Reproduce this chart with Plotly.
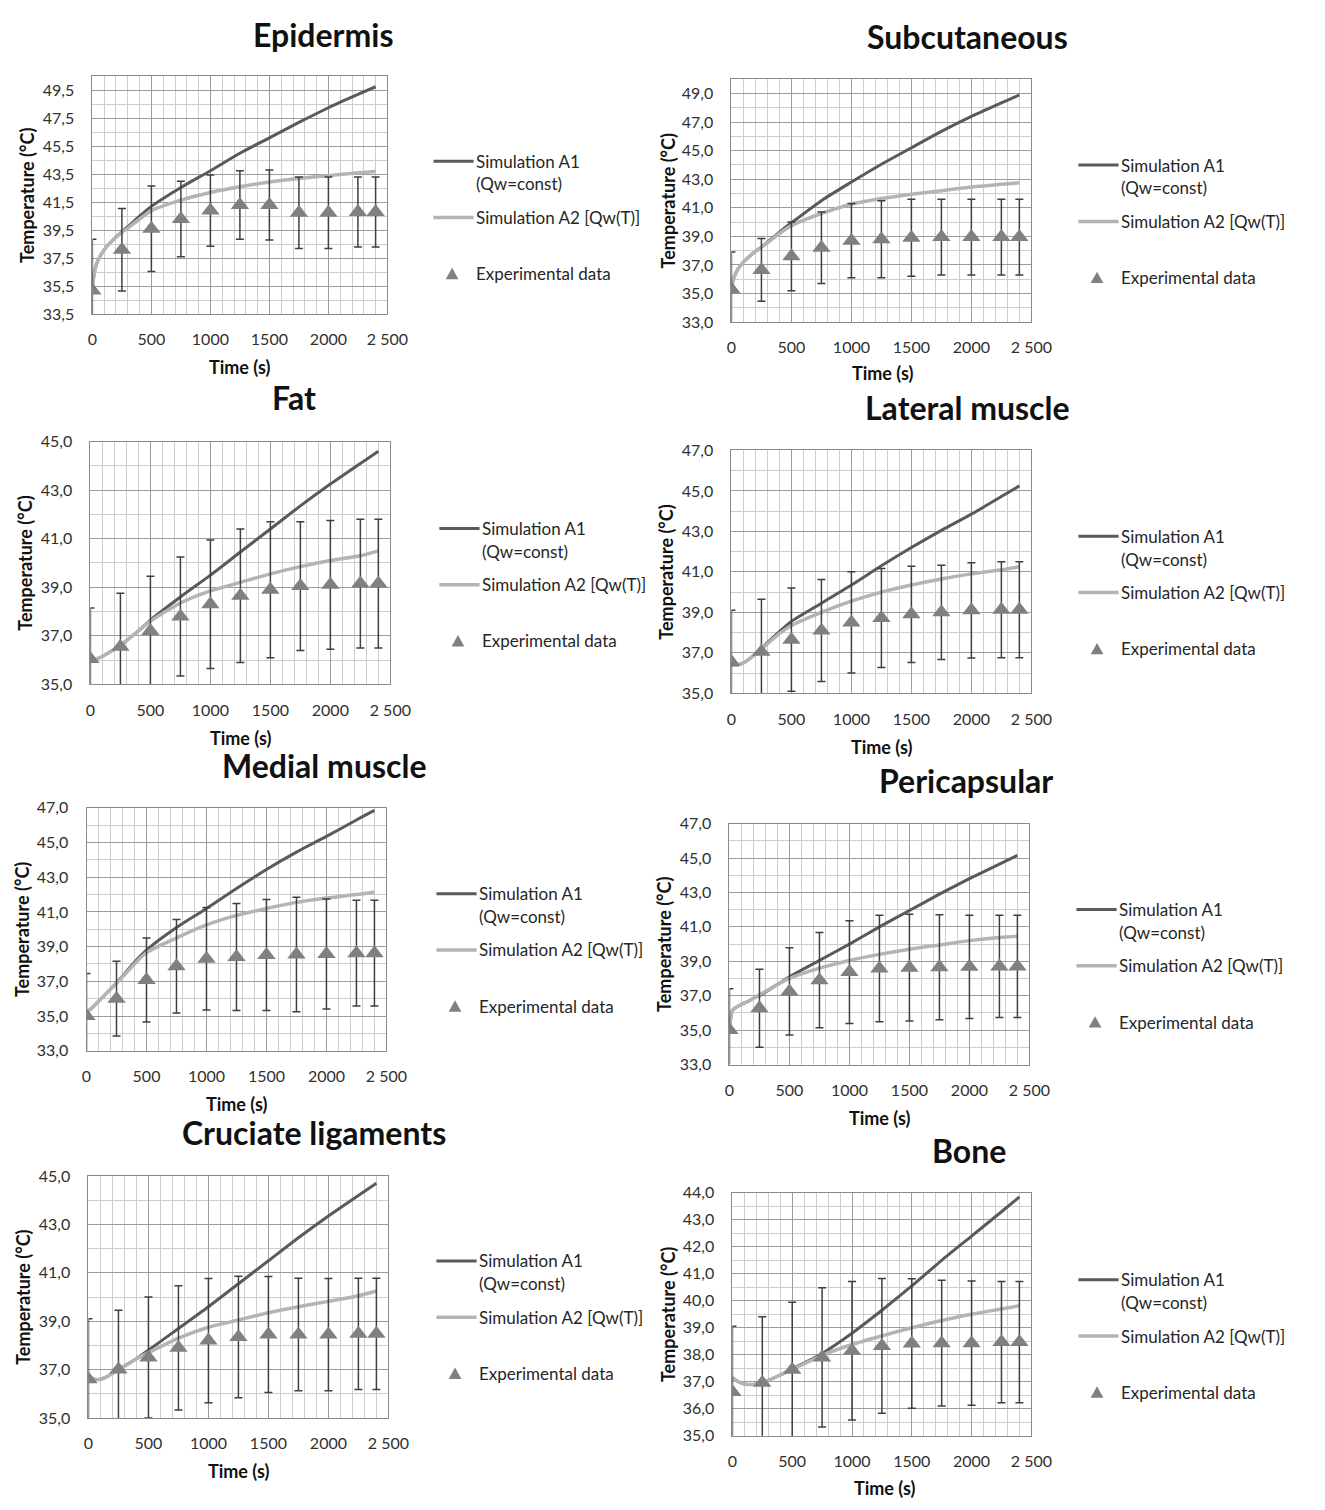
import plotly.graph_objects as go

W, H = 1325, 1510          # target page size
PAD = 8                    # default page body margin
FW, FH = W - 2 * PAD, H - 2 * PAD   # figure size so page fits exactly

# ---------------- data ----------------
exp_time = [0, 250, 500, 750, 1000, 1250, 1500, 1750, 2000, 2250, 2400]
sim_time = [0, 25, 50, 100, 150, 200, 250, 300, 400, 500, 750, 1000, 1250, 1500, 1750, 2000, 2250, 2400]
x_tick_vals = [0, 500, 1000, 1500, 2000, 2500]
x_tick_text = ["0", "500", "1000", "1500", "2000", "2 500"]

titles = ["Epidermis", "Subcutaneous", "Fat", "Lateral muscle",
          "Medial muscle", "Pericapsular", "Cruciate ligaments", "Bone"]

epidermis_a1 = [35.5, 36.8, 37.4, 38.1, 38.6, 39.0, 39.4, 39.75, 40.5, 41.2, 42.55, 43.75, 45.0, 46.1, 47.2, 48.25, 49.2, 49.75]
epidermis_a2 = [35.5, 36.8, 37.4, 38.1, 38.6, 39.0, 39.35, 39.65, 40.3, 40.9, 41.65, 42.2, 42.6, 42.95, 43.2, 43.4, 43.6, 43.7]
epidermis_exp = [35.2, 38.1, 39.6, 40.3, 40.9, 41.3, 41.3, 40.75, 40.75, 40.8, 40.8]
epidermis_err = [3.65, 2.95, 3.05, 2.7, 2.55, 2.45, 2.5, 2.55, 2.55, 2.5, 2.5]

subcutaneous_a1 = [35.5, 36.2, 36.65, 37.2, 37.6, 37.95, 38.25, 38.6, 39.3, 39.95, 41.5, 42.8, 44.05, 45.2, 46.35, 47.4, 48.35, 48.9]
subcutaneous_a2 = [35.5, 36.2, 36.65, 37.2, 37.6, 37.95, 38.25, 38.55, 39.2, 39.75, 40.6, 41.25, 41.65, 41.95, 42.2, 42.45, 42.65, 42.75]
subcutaneous_exp = [35.3, 36.65, 37.6, 38.2, 38.7, 38.8, 38.9, 38.95, 38.95, 38.95, 38.95]
subcutaneous_err = [2.6, 2.2, 2.4, 2.5, 2.6, 2.7, 2.7, 2.65, 2.65, 2.65, 2.65]

fat_a1 = [36.0, 36.02, 36.05, 36.15, 36.3, 36.45, 36.6, 36.8, 37.2, 37.65, 38.6, 39.5, 40.45, 41.4, 42.35, 43.25, 44.1, 44.6]
fat_a2 = [36.0, 36.02, 36.05, 36.15, 36.3, 36.45, 36.6, 36.8, 37.2, 37.6, 38.35, 38.85, 39.2, 39.55, 39.85, 40.1, 40.3, 40.5]
fat_exp = [36.05, 36.55, 37.2, 37.8, 38.3, 38.65, 38.9, 39.05, 39.1, 39.15, 39.15]
fat_err = [2.1, 2.2, 2.25, 2.45, 2.65, 2.75, 2.8, 2.65, 2.65, 2.65, 2.65]

lateral_a1 = [36.4, 36.38, 36.4, 36.5, 36.7, 36.95, 37.2, 37.5, 38.05, 38.55, 39.45, 40.35, 41.3, 42.2, 43.05, 43.85, 44.72, 45.25]
lateral_a2 = [36.4, 36.38, 36.4, 36.5, 36.7, 36.95, 37.2, 37.45, 37.95, 38.35, 39.0, 39.55, 40.0, 40.35, 40.65, 40.9, 41.1, 41.25]
lateral_exp = [36.55, 37.05, 37.65, 38.1, 38.5, 38.72, 38.9, 39.0, 39.1, 39.13, 39.13]
lateral_err = [2.55, 2.6, 2.55, 2.52, 2.5, 2.45, 2.38, 2.33, 2.35, 2.37, 2.37]

medial_a1 = [35.15, 35.35, 35.5, 35.85, 36.2, 36.55, 36.9, 37.3, 38.1, 38.8, 40.1, 41.2, 42.35, 43.45, 44.45, 45.35, 46.3, 46.85]
medial_a2 = [35.15, 35.35, 35.5, 35.85, 36.2, 36.55, 36.9, 37.25, 38.0, 38.65, 39.5, 40.25, 40.8, 41.2, 41.55, 41.8, 42.0, 42.15]
medial_exp = [35.0, 36.0, 37.08, 37.87, 38.3, 38.4, 38.52, 38.54, 38.58, 38.62, 38.62]
medial_err = [2.45, 2.15, 2.42, 2.7, 2.95, 3.08, 3.2, 3.3, 3.17, 3.05, 3.05]

pericapsular_a1 = [35.1, 36.15, 36.3, 36.5, 36.65, 36.85, 37.0, 37.2, 37.65, 38.1, 39.05, 40.0, 41.0, 41.95, 42.9, 43.8, 44.65, 45.15]
pericapsular_a2 = [35.1, 36.15, 36.3, 36.5, 36.65, 36.85, 37.05, 37.25, 37.65, 38.0, 38.6, 39.05, 39.4, 39.7, 39.95, 40.2, 40.38, 40.45]
pericapsular_exp = [35.0, 36.27, 37.25, 37.9, 38.37, 38.58, 38.63, 38.65, 38.68, 38.7, 38.7]
pericapsular_err = [2.4, 2.27, 2.53, 2.77, 2.98, 3.1, 3.1, 3.05, 3.0, 2.97, 2.97]

cruciate_a1 = [36.75, 36.65, 36.6, 36.6, 36.7, 36.85, 37.0, 37.15, 37.45, 37.8, 38.7, 39.6, 40.55, 41.5, 42.45, 43.35, 44.2, 44.7]
cruciate_a2 = [36.75, 36.65, 36.6, 36.6, 36.7, 36.85, 37.0, 37.15, 37.45, 37.7, 38.3, 38.75, 39.05, 39.35, 39.6, 39.82, 40.05, 40.25]
cruciate_exp = [36.6, 37.0, 37.5, 37.9, 38.2, 38.35, 38.45, 38.45, 38.45, 38.48, 38.48]
cruciate_err = [2.5, 2.45, 2.5, 2.57, 2.57, 2.51, 2.4, 2.33, 2.32, 2.3, 2.3]

bone_a1 = [37.15, 37.07, 37.0, 36.92, 36.9, 36.92, 36.97, 37.05, 37.25, 37.48, 38.05, 38.8, 39.65, 40.55, 41.5, 42.4, 43.3, 43.85]
bone_a2 = [37.15, 37.07, 37.0, 36.92, 36.9, 36.92, 36.97, 37.05, 37.25, 37.45, 37.98, 38.38, 38.7, 39.0, 39.27, 39.5, 39.7, 39.82]
bone_exp = [36.62, 36.96, 37.45, 37.9, 38.15, 38.33, 38.42, 38.43, 38.43, 38.47, 38.47]
bone_err = [2.44, 2.45, 2.5, 2.58, 2.57, 2.5, 2.4, 2.33, 2.3, 2.25, 2.25]

series = [
    (epidermis_a1, epidermis_a2, epidermis_exp, epidermis_err),
    (subcutaneous_a1, subcutaneous_a2, subcutaneous_exp, subcutaneous_err),
    (fat_a1, fat_a2, fat_exp, fat_err),
    (lateral_a1, lateral_a2, lateral_exp, lateral_err),
    (medial_a1, medial_a2, medial_exp, medial_err),
    (pericapsular_a1, pericapsular_a2, pericapsular_exp, pericapsular_err),
    (cruciate_a1, cruciate_a2, cruciate_exp, cruciate_err),
    (bone_a1, bone_a2, bone_exp, bone_err),
]

# y axis settings: (min, max, major step)
y_axes = [(33.5, 50.5, 2), (33, 50, 2), (35, 45, 2), (35, 47, 2),
          (33, 47, 2), (33, 47, 2), (35, 45, 2), (35, 44, 1)]

# ---------------- layout (page pixels) ----------------
boxes = [(89, 390, 67, 308), (741, 1047, 70, 316),
         (87, 393, 437, 683), (741, 1047, 446, 692),
         (83, 389, 808, 1054), (739, 1045, 824, 1068),
         (85, 391, 1181, 1426), (742, 1047, 1198, 1444)]
title_pos = [(325, 25), (982, 27), (295, 392), (982, 403),
             (325, 765), (980, 780), (315, 1137), (983, 1155)]
ytitle_x = [22, 676, 20, 674, 17, 672, 18, 677]
xtitle_pos = [(239, 361), (895, 368), (240, 737), (894, 746),
              (236, 1108), (892, 1122), (238, 1480), (897, 1497)]
legend_pos = [(437, 153), (1095, 157), (443, 525), (1095, 533),
              (440, 895), (1093, 911), (440, 1267), (1095, 1286)]

C_A1 = "#5a5a5a"
C_A2 = "#b4b4b4"
C_EXP = "#808080"
C_ERR = "#3f3f3f"
FONT = "Lato"


def pxx(x):
    return (x - PAD) / FW


def pxy(y):
    return 1 - (y - PAD) / FH


fig = go.Figure()
annotations = []
shapes = []

for i in range(8):
    a1, a2, ev, ee = series[i]
    n = "" if i == 0 else str(i + 1)
    xa, ya = "x" + n, "y" + n
    fig.add_trace(go.Scatter(x=sim_time, y=a1, mode="lines", xaxis=xa, yaxis=ya,
                             line=dict(color=C_A1, width=3, shape="spline", smoothing=0.7),
                             showlegend=False, name="Simulation A1 (Qw=const)"))
    fig.add_trace(go.Scatter(x=sim_time, y=a2, mode="lines", xaxis=xa, yaxis=ya,
                             line=dict(color=C_A2, width=3.5, shape="spline", smoothing=0.7),
                             showlegend=False, name="Simulation A2 [Qw(T)]"))
    fig.add_trace(go.Scatter(x=exp_time, y=ev, mode="markers", xaxis=xa, yaxis=ya,
                             marker=dict(symbol="triangle-up", size=16, color=C_EXP),
                             error_y=dict(type="data", array=ee, visible=True,
                                          color=C_ERR, thickness=1.5, width=4),
                             showlegend=False, name="Experimental data"))

    l, r, t, b = boxes[i]
    ymin, ymax, ystep = y_axes[i]
    fig.layout["xaxis" + n] = dict(
        domain=[pxx(l), pxx(r)], anchor=ya, range=[0, 2500],
        tickvals=x_tick_vals, ticktext=x_tick_text,
        ticks="outside", ticklen=11, tickcolor="rgba(0,0,0,0)",
        tickfont=dict(family=FONT, size=16, color="#303030"),
        showgrid=True, gridcolor="#9c9c9c", gridwidth=1,
        minor=dict(dtick=100, tick0=0, showgrid=True, gridcolor="#cdcdcd", gridwidth=1),
        showline=True, linecolor="#8a8a8a", linewidth=1, mirror=True,
        zeroline=False, fixedrange=True,
    )
    tickvals = []
    v = ymin
    while v <= ymax + 1e-9:
        tickvals.append(round(v, 2))
        v += ystep
    ticktext = [("%.1f" % tv).replace(".", ",") for tv in tickvals]
    fig.layout["yaxis" + n] = dict(
        domain=[pxy(b), pxy(t)], anchor=xa, range=[ymin, ymax],
        tickvals=tickvals, ticktext=ticktext,
        ticks="outside", ticklen=14, tickcolor="rgba(0,0,0,0)",
        tickfont=dict(family=FONT, size=16, color="#303030"),
        showgrid=True, gridcolor="#9c9c9c", gridwidth=1,
        minor=dict(dtick=ystep / 2, tick0=ymin, showgrid=True, gridcolor="#cdcdcd", gridwidth=1),
        showline=True, linecolor="#8a8a8a", linewidth=1, mirror=True,
        zeroline=False, fixedrange=True,
    )

    # panel title
    tx, ty = title_pos[i]
    annotations.append(dict(text="<b>" + titles[i] + "</b>", x=pxx(tx), y=pxy(ty),
                            xref="paper", yref="paper", xanchor="center", yanchor="middle",
                            showarrow=False, font=dict(family=FONT, size=32, color="#111111")))
    # y axis title
    annotations.append(dict(text="<b>Temperature (°C)</b>", x=pxx(ytitle_x[i]),
                            y=pxy((t + b) / 2), xref="paper", yref="paper",
                            xanchor="center", yanchor="middle", textangle=-90,
                            showarrow=False, font=dict(family=FONT, size=18, color="#111111")))
    # x axis title
    xx, xy = xtitle_pos[i]
    annotations.append(dict(text="<b>Time (s)</b>", x=pxx(xx), y=pxy(xy),
                            xref="paper", yref="paper", xanchor="center", yanchor="middle",
                            showarrow=False, font=dict(family=FONT, size=18, color="#111111")))

    # legend (drawn manually)
    lx, ly = legend_pos[i]
    shapes.append(dict(type="line", xref="paper", yref="paper",
                       x0=pxx(lx), x1=pxx(lx + 41), y0=pxy(ly), y1=pxy(ly),
                       line=dict(color=C_A1, width=3)))
    shapes.append(dict(type="line", xref="paper", yref="paper",
                       x0=pxx(lx), x1=pxx(lx + 41), y0=pxy(ly + 57), y1=pxy(ly + 57),
                       line=dict(color=C_A2, width=3.5)))
    cx, cy = lx + 19, ly + 114
    tri = "M %f %f L %f %f L %f %f Z" % (pxx(cx - 6.5), pxy(cy + 5.5), pxx(cx + 6.5), pxy(cy + 5.5),
                                         pxx(cx), pxy(cy - 6))
    shapes.append(dict(type="path", xref="paper", yref="paper", path=tri,
                       fillcolor=C_EXP, line=dict(color=C_EXP, width=0)))
    for txt, dy in [("Simulation A1", 0), ("(Qw=const)", 23),
                    ("Simulation A2 [Qw(T)]", 57), ("Experimental data", 114)]:
        annotations.append(dict(text=txt, x=pxx(lx + 41), y=pxy(ly + dy),
                                xref="paper", yref="paper", xanchor="left", yanchor="middle",
                                showarrow=False,
                                font=dict(family=FONT, size=17, color="#262626")))

fig.update_layout(
    width=FW, height=FH,
    margin=dict(l=0, r=0, t=0, b=0),
    paper_bgcolor="white", plot_bgcolor="white",
    showlegend=False,
    annotations=annotations,
    shapes=shapes,
)

fig.write_html("out.html")
